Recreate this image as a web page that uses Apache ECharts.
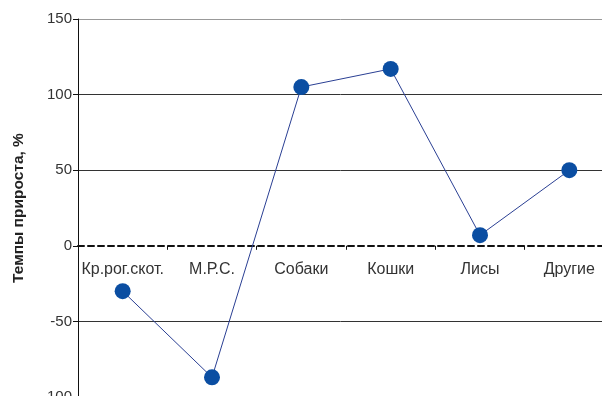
<!DOCTYPE html>
<html>
<head>
<meta charset="utf-8">
<script src="https://cdn.jsdelivr.net/npm/echarts@6/dist/echarts.min.js"></script>
<style>
  html, body { margin: 0; padding: 0; background: #fff; }
  #main { width: 602px; height: 396px; }
</style>
</head>
<body>
<div id="main"></div>
<script>
// категории и значения
var categories = ['Кр.рог.скот.', 'М.Р.С.', 'Собаки', 'Кошки', 'Лисы', 'Другие'];
var growth = [-30, -87, 105, 117, 7, 50];
var yMin = -100, yMax = 150, yStep = 50;

var font = 'Liberation Sans, Arial, sans-serif';
var chart = echarts.init(document.getElementById('main'));

var option = {
    animation: false,
    grid: {
        left: 78,
        right: -12,
        top: 19,
        bottom: -1,
        containLabel: false,
        outerBoundsMode: 'none'
    },
    xAxis: {
        type: 'category',
        data: categories,
        boundaryGap: true,
        axisLine: {
            onZero: false,
            lineStyle: { color: '#111', width: 2, type: [6, 4] }
        },
        axisTick: {
            show: true,
            interval: 0,
            length: 4,
            lineStyle: { color: '#111', width: 1 }
        },
        axisLabel: {
            interval: 0,
            margin: 16,
            color: '#333',
            fontFamily: font,
            fontSize: 16
        },
        splitLine: { show: false }
    },
    yAxis: {
        type: 'value',
        min: yMin,
        max: yMax,
        interval: yStep,
        name: 'Темпы прироста, %',
        nameLocation: 'middle',
        nameGap: 51,
        nameTextStyle: {
            color: '#222',
            fontFamily: font,
            fontSize: 15.5,
            fontWeight: 'bold'
        },
        axisLine: {
            show: true,
            lineStyle: { color: '#111', width: 1 }
        },
        axisTick: {
            show: true,
            length: 5,
            lineStyle: { color: '#111' }
        },
        axisLabel: {
            margin: 6,
            color: '#333',
            fontFamily: font,
            fontSize: 15
        },
        splitLine: {
            show: true,
            lineStyle: {
                color: ['#333', '#333', 'rgba(0,0,0,0)', '#333', '#333', '#999'],
                width: 1
            }
        }
    },
    series: [
        {
            name: 'Темпы прироста',
            type: 'line',
            data: growth,
            symbol: 'circle',
            symbolSize: 16,
            itemStyle: { color: '#0b4ea2' },
            lineStyle: { color: '#2a3f93', width: 1 },
            z: 5
        }
    ]
};

chart.setOption(option);

// подписи категорий у нулевой линии: сдвиг оси X до y = 0
var zeroPx = chart.convertToPixel({ yAxisIndex: 0 }, 0);
var bottomPx = chart.convertToPixel({ yAxisIndex: 0 }, yMin);
chart.setOption({ xAxis: { offset: zeroPx - bottomPx } });
</script>
</body>
</html>
